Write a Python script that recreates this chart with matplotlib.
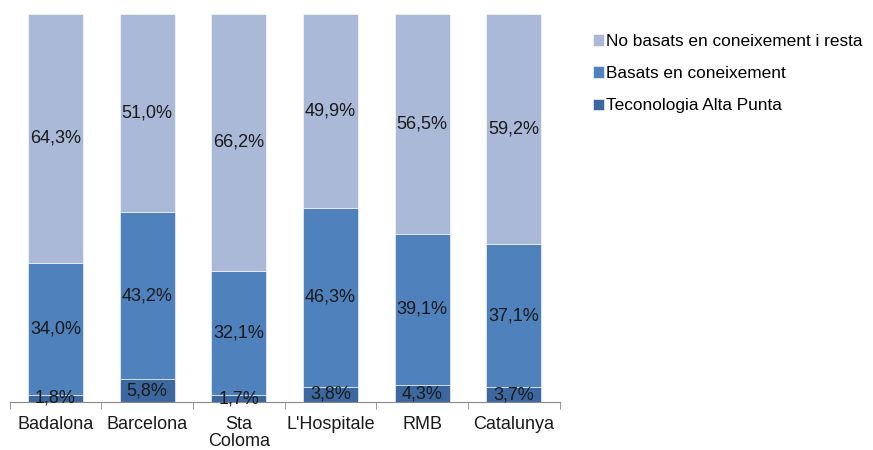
import numpy as np
import matplotlib
matplotlib.use("Agg")
import matplotlib.pyplot as plt
from matplotlib.ticker import FixedLocator

plt.rcParams['font.family'] = ['Liberation Sans', 'DejaVu Sans']

# Data
zones = ["Badalona", "Barcelona", "Sta\nColoma", "L'Hospitale", "RMB", "Catalunya"]
alta_punta = [1.8, 5.8, 1.7, 3.8, 4.3, 3.7]
coneixement = [34.0, 43.2, 32.1, 46.3, 39.1, 37.1]
no_coneixement = [64.3, 51.0, 66.2, 49.9, 56.5, 59.2]

series = [
    ("Teconologia Alta Punta", alta_punta, "#3C679F"),
    ("Basats en coneixement", coneixement, "#4F81BD"),
    ("No basats en coneixement i resta", no_coneixement, "#AAB9D7"),
]

fig = plt.figure(figsize=(8.73, 4.5), dpi=100)
ax = fig.add_axes([0.011, 0.107, 0.63, 0.862])

x = np.arange(len(zones))
bottom = np.zeros(len(zones))
handles = []
for name, vals, color in series:
    vals = np.array(vals)
    b = ax.bar(x, vals, 0.6, bottom=bottom, color=color, edgecolor="white",
               linewidth=0.4, label=name)
    handles.append(b)
    for xi, v, b0 in zip(x, vals, bottom):
        ax.text(xi, b0 + v / 2, f"{v:.1f}%".replace(".", ","), ha="center",
                va="center", fontsize=13, color="#1a1a1a")
    bottom += vals

ax.set_xlim(-0.5, len(zones) - 0.5)
ax.set_ylim(0, 100)
ax.set_yticks([])
for s in ["top", "right", "left"]:
    ax.spines[s].set_visible(False)
ax.spines["bottom"].set_color("#888888")
ax.set_xticks(x)
ax.set_xticklabels(zones, fontsize=13, color="#1a1a1a", linespacing=1.0)
ax.tick_params(axis="x", which="major", length=0, pad=10)
ax.xaxis.set_minor_locator(FixedLocator(np.arange(-0.5, len(zones), 1)))
ax.tick_params(axis="x", which="minor", length=5, color="#888888")

fig.legend(handles[::-1], [h.get_label() for h in handles[::-1]],
           loc="upper left", bbox_to_anchor=(0.671, 0.94), frameon=False,
           fontsize=12.4, handlelength=0.65, handleheight=0.65, handletextpad=0.15,
           labelspacing=1.0, borderpad=0.2, borderaxespad=0.2)

fig.savefig("out.png", dpi=100)
